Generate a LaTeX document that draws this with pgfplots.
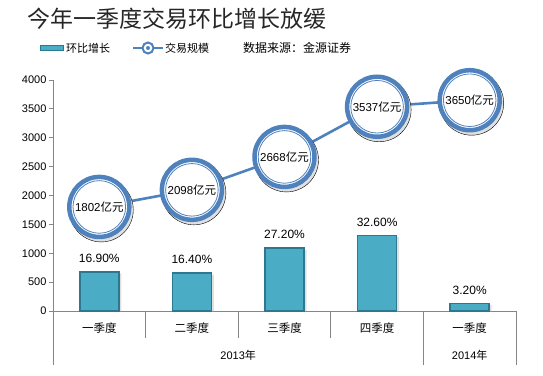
\documentclass[border=0pt]{standalone}
\usepackage{pgfplots}
\pgfplotsset{compat=1.18}
\usepackage{fontspec}
\setmainfont{Liberation Sans}
\newfontfamily\cjk{Noto Sans CJK SC}
\definecolor{barfill}{RGB}{75,172,198}
\definecolor{barline}{RGB}{45,120,145}
\definecolor{linec}{RGB}{79,129,189}
\definecolor{axisgray}{RGB}{134,134,134}
\begin{document}
\begin{tikzpicture}[x=1pt,y=1pt]
\useasboundingbox (0,0) rectangle (543,375);
% title
\node[anchor=west, font=\cjk\fontsize{23}{25}\selectfont, text=black!85, inner sep=0pt] at (27,356) {今年一季度交易环比增长放缓};
% legend
\fill[barfill, draw=barline, line width=0.8pt] (40,324.5) rectangle (63,329.5);
\node[anchor=west, font=\cjk\fontsize{11}{12}\selectfont, inner sep=0pt] at (66,327) {环比增长};
\draw[linec, line width=2pt] (133,327) -- (163,327);
\draw[linec, line width=2pt, fill=white] (148,327) circle (5.5pt);
\fill[linec] (148,327) circle (2pt);
\node[anchor=west, font=\cjk\fontsize{11}{12}\selectfont, inner sep=0pt] at (165,327) {交易规模};
\node[anchor=west, font=\cjk\fontsize{12}{13}\selectfont, inner sep=0pt] at (243,327) {数据来源：金源证券};
\begin{axis}[
  at={(53pt,64pt)}, anchor=south west, scale only axis,
  width=463pt, height=231pt,
  xmin=-0.5, xmax=4.5, ymin=0, ymax=4000,
  ytick={0,500,...,4000}, xtick=\empty,
  axis x line*=bottom, axis y line*=left,
  clip=false,
  /pgf/number format/assume math mode=true,
  /pgf/number format/1000 sep={},
  tick label style={font=\fontsize{11}{12}\selectfont, text=black},
  yticklabel style={xshift=1pt},
  ytick style={draw=axisgray, line width=0.8pt},
  major tick length=4pt, tick align=outside,
  axis line style={draw=axisgray, line width=0.8pt},
]
% bar shadows
\addplot[ybar, bar width=39pt, bar shift=2.5pt, fill=black!12, draw=none, forget plot]
  coordinates {(0,650) (1,630) (2,1062) (3,1278) (4,104)};
% bars (percent values scaled on the left axis)
\addplot[ybar, bar width=39pt, fill=barfill, draw=barline, line width=1.6pt,
  nodes near coords, point meta=explicit symbolic,
  every node near coord/.style={font=\fontsize{12}{14}\selectfont, text=black, yshift=5pt}]
  coordinates {(0,676) [16.90\%] (1,656) [16.40\%] (2,1088) [27.20\%] (3,1304) [32.60\%] (4,128) [3.20\%]};
% line
\addplot[linec, line width=2.6pt, mark=none] coordinates {(0,1802) (1,2098) (2,2668) (3,3537) (4,3650)};
% circle shadows
\addplot[only marks, mark=*, mark size=32pt, mark options={fill=black!12, draw=none, xshift=2pt, yshift=-3pt}]
  coordinates {(0,1802) (1,2098) (2,2668) (3,3537) (4,3650)};
% outer ring
\addplot[only marks, mark=*, mark size=30pt, mark options={fill=white, draw=linec, line width=4.5pt}]
  coordinates {(0,1802) (1,2098) (2,2668) (3,3537) (4,3650)};
% inner thin ring + labels
\addplot[only marks, mark=o, mark size=26.3pt, mark options={draw=linec, line width=0.8pt},
  point meta=y,
  nodes near coords={\pgfmathprintnumber[1000 sep={}]{\pgfplotspointmeta}{\cjk 亿元}},
  every node near coord/.style={anchor=center, font=\fontsize{11.5}{13}\selectfont, text=black, inner sep=0pt}]
  coordinates {(0,1802) (1,2098) (2,2668) (3,3537) (4,3650)};
% category separators
\draw[axisgray, line width=0.8pt] (axis cs:0.5,0) -- ++(0pt,-27pt);
\draw[axisgray, line width=0.8pt] (axis cs:1.5,0) -- ++(0pt,-27pt);
\draw[axisgray, line width=0.8pt] (axis cs:2.5,0) -- ++(0pt,-27pt);
\draw[axisgray, line width=0.8pt] (axis cs:-0.5,0) -- ++(0pt,-54pt);
\draw[axisgray, line width=0.8pt] (axis cs:3.5,0) -- ++(0pt,-54pt);
\draw[axisgray, line width=0.8pt] (axis cs:4.5,0) -- ++(0pt,-54pt);
% category labels
\foreach \i/\t in {0/一季度,1/二季度,2/三季度,3/四季度,4/一季度}{
  \edef\tmp{\noexpand\node[font=\noexpand\cjk\noexpand\fontsize{11.5}{13}\noexpand\selectfont, text=black] at (axis cs:\i,0) [yshift=-17pt] {\t};}\tmp
}
\node[font=\fontsize{11}{13}\selectfont, text=black] at (axis cs:1.5,0) [yshift=-44pt] {2013{\cjk 年}};
\node[font=\fontsize{11}{13}\selectfont, text=black] at (axis cs:4,0) [yshift=-44pt] {2014{\cjk 年}};
\end{axis}
\end{tikzpicture}
\end{document}
